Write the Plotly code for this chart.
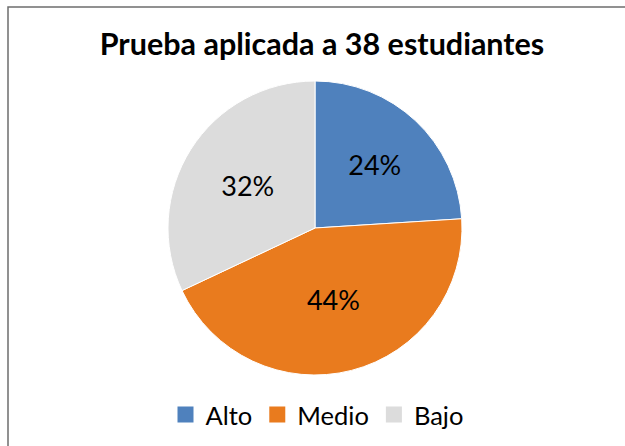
import plotly.graph_objects as go

categories = ["Alto", "Medio", "Bajo"]
values = [24, 44, 32]
colors = ["#4F81BD", "#E97B1E", "#DCDCDC"]
title_text = "Prueba aplicada a 38 estudiantes"

W, H = 625, 446
FONT = "Lato, Open Sans, sans-serif"

fig = go.Figure()
fig.add_trace(go.Pie(
    labels=categories,
    values=values,
    sort=False,
    direction="clockwise",
    rotation=0,
    marker=dict(colors=colors, line=dict(color="white", width=1)),
    textinfo="percent",
    texttemplate="%{percent:.0%}",
    textposition="inside",
    insidetextorientation="horizontal",
    textfont=dict(family=FONT, size=27, color="black"),
    domain=dict(x=[168 / W, 462 / W], y=[1 - 375 / H, 1 - 81 / H]),
    hoverinfo="label+percent",
    showlegend=False,
))

# legend entries with larger square swatches
for cat, col in zip(categories, colors):
    fig.add_trace(go.Scatter(
        x=[None], y=[None], mode="markers", name=cat,
        marker=dict(symbol="square", size=16, color=col),
        showlegend=True, hoverinfo="skip",
    ))

fig.update_layout(
    width=W, height=H,
    margin=dict(l=0, r=0, t=0, b=0, autoexpand=False),
    paper_bgcolor="white",
    plot_bgcolor="white",
    xaxis=dict(visible=False),
    yaxis=dict(visible=False),
    title=dict(
        text="<b>" + title_text + "</b>",
        x=322 / W, xanchor="center",
        y=1 - 44 / H, yanchor="middle",
        font=dict(family=FONT, size=30.5, color="black"),
    ),
    legend=dict(
        orientation="h",
        x=317 / W, xanchor="center",
        y=1 - 415 / H, yanchor="middle",
        font=dict(family=FONT, size=25.5, color="black"),
        itemsizing="trace",
        traceorder="normal",
        itemwidth=30,
        tracegroupgap=0,
    ),
    showlegend=True,
    shapes=[dict(
        type="rect", xref="paper", yref="paper",
        x0=8 / W, x1=1.02, y0=-0.02, y1=1 - 7 / H,
        line=dict(color="#6E6E6E", width=1.5),
        fillcolor="rgba(0,0,0,0)",
        layer="above",
    )],
)

fig.write_html(
    "out.html",
    config={"displayModeBar": False},
    post_script="document.body.style.margin='0px';document.body.style.overflow='hidden';",
)
